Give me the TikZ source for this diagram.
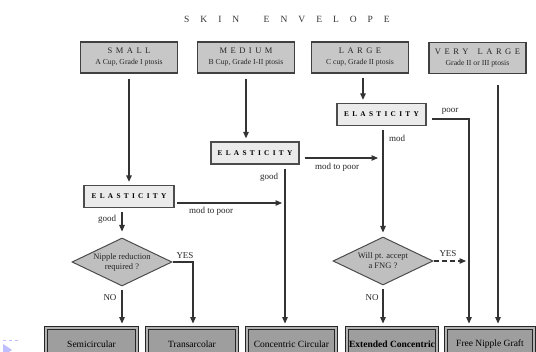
\documentclass[tikz,border=0pt]{standalone}
\usepackage{fontspec}
\setmainfont{Liberation Serif}
\usetikzlibrary{arrows.meta,shapes.geometric,calc}
\makeatletter
\newcommand{\spaced}[2]{\def\sp@amt{#1}\sp@loop#2\@nil}
\def\sp@loop#1#2\@nil{#1\ifx\relax#2\relax\else\kern\sp@amt\sp@loop#2\@nil\fi}
\makeatother
\begin{document}
\begin{tikzpicture}[x=1pt,y=-1pt,
  conn/.style={draw=black!80, line width=1.2pt},
  arr/.style={conn, -{Triangle[length=6.5pt,width=5.5pt]}},
  topbox/.style={draw=black!75, line width=1.1pt, fill=black!22, minimum width=97pt, minimum height=31pt, inner sep=0pt, align=center, text=black!85},
  elbox/.style={draw=black!70, line width=1.3pt, fill=black!8, minimum height=22pt, inner sep=0pt, font=\fontsize{7.3}{8}\selectfont\bfseries},
  dia/.style={diamond, draw=black!70, line width=1pt, fill=black!25, minimum width=100pt, minimum height=48pt, inner sep=0pt, aspect=2.08, align=center, font=\fontsize{8.5}{10}\selectfont, text=black!85},
  endbox/.style={draw=black!85, line width=0.9pt, double=black!30, double distance=1.3pt, fill=black!38, minimum height=32pt, inner sep=0pt, font=\fontsize{9.5}{11}\selectfont},
  lab/.style={font=\fontsize{9}{10}\selectfont, inner sep=0pt, text=black!85}]
\useasboundingbox (0,0) rectangle (536,352);
\clip (0,0) rectangle (536,352);
\fill[white] (0,0) rectangle (536,352);

% title
\node[font=\fontsize{9.5}{11}\selectfont, text=black!80] (title) at (287,19) {\spaced{11pt}{SKIN~ENVELOPE}};

% top boxes
\node[topbox] (small) at (129,57.5) {{\fontsize{8.5}{10}\selectfont\spaced{3.5pt}{SMALL}}\\[-1pt]{\fontsize{7.7}{9}\selectfont A Cup, Grade I ptosis}};
\node[topbox] (medium) at (246,57.5) {{\fontsize{8.5}{10}\selectfont\spaced{3.5pt}{MEDIUM}}\\[-1pt]{\fontsize{7.7}{9}\selectfont B Cup, Grade I-II ptosis}};
\node[topbox] (large) at (360,57.5) {{\fontsize{8.5}{10}\selectfont\spaced{3.5pt}{LARGE}}\\[-1pt]{\fontsize{7.7}{9}\selectfont C cup, Grade II ptosis}};
\node[topbox] (vlarge) at (477.5,58) {{\fontsize{8.5}{10}\selectfont\spaced{3.5pt}{VERY~LARGE}}\\[-1pt]{\fontsize{7.7}{9}\selectfont Grade II or III ptosis}};

% elasticity boxes
\node[elbox, minimum width=89pt] (e3) at (381.5,114.5) {\spaced{3.3pt}{ELASTICITY}};
\node[elbox, minimum width=88pt] (e2) at (255,153) {\spaced{3.3pt}{ELASTICITY}};
\node[elbox, minimum width=90pt] (e1) at (129,196.5) {\spaced{3.3pt}{ELASTICITY}};

% decisions
\node[dia] (d1) at (122,262) {Nipple reduction\\required ?};
\node[dia] (d2) at (383,261) {Will pt. accept\\a FNG ?};

% outcome boxes
\node[endbox, minimum width=91pt] (sc) at (91.5,344) {Semicircular};
\node[endbox, minimum width=90pt] (ta) at (192,344) {Transarcolar};
\node[endbox, minimum width=89pt] (cc) at (291.5,344) {Concentric Circular};
\node[endbox, minimum width=90pt] (ec) at (392,344) {\bfseries Extended Concentric};
\node[endbox, minimum width=88pt] (fng) at (490,344) {Free Nipple Graft};

% helper coordinates
\coordinate (xg) at (285,0);
\coordinate (xp) at (469,0);
\coordinate (xv) at (498,0);
\coordinate (xy) at (193,0);
\coordinate (ym1) at (0,158);
\coordinate (ym2) at (0,203);
\coordinate (yp) at (0,119);

% connectors
\draw[arr, shorten <=5pt, shorten >=3pt] (small.south) -- (small.south |- e1.north);
\draw[arr, shorten <=5pt, shorten >=3pt] (medium.south) -- (medium.south |- e2.north);
\draw[arr, shorten <=4pt, shorten >=3pt] ([xshift=3pt]large.south) -- ([xshift=3pt]large.south |- e3.north);
\draw[arr, shorten <=11pt, shorten >=4pt] (vlarge.south -| xv) -- (fng.north -| xv);
\draw[arr, shorten <=5pt, shorten >=4pt] (e3.east |- yp) -| (fng.north -| xp);
\draw[arr, shorten <=4pt, shorten >=4pt] (e3.south -| d2.north) -- (d2.north);
\draw[arr, shorten <=5pt, shorten >=5pt] (e2.east |- ym1) -- (d2.north |- ym1);
\draw[arr, shorten <=4pt, shorten >=4pt] (e2.south -| xg) -- (cc.north -| xg);
\draw[arr, shorten <=2pt, shorten >=3pt] (e1.east |- ym2) -- (xg |- ym2);
\draw[arr, shorten <=4pt, shorten >=6pt] (e1.south -| d1.north) -- (d1.north);
\draw[arr, shorten >=4pt] (d1.east) -- (d1.east -| xy) -- (ta.north -| xy);
\draw[arr, shorten <=4pt, shorten >=4pt] (d1.south) -- (sc.north -| d1.south);
\draw[arr, dash pattern=on 5pt off 3pt, shorten >=3pt] (d2.east) -- (xp |- d2.east);
\draw[arr, shorten <=4pt, shorten >=4pt] (d2.south) -- (ec.north -| d2.south);

% labels
\node[lab] (lpoor) at (450,111) {poor};
\node[lab] (lmod) at (397,138) {mod};
\node[lab] (lmp2) at (337,167) {mod to poor};
\node[lab] (lg2) at (269,177) {good};
\node[lab] (lmp1) at (211,211) {mod to poor};
\node[lab] (lg1) at (107,219) {good};
\node[lab] (ly1) at (185,256) {YES};
\node[lab] (ln1) at (110,298) {NO};
\node[lab] (ly2) at (448,254) {YES};
\node[lab] (ln2) at (372,298) {NO};

% small slide artefact
\fill[blue!25] (3,344) -- (12,350) -- (3,356) -- cycle;
\draw[blue!25, dashed] (3,340) -- (18,340);
\end{tikzpicture}
\end{document}
